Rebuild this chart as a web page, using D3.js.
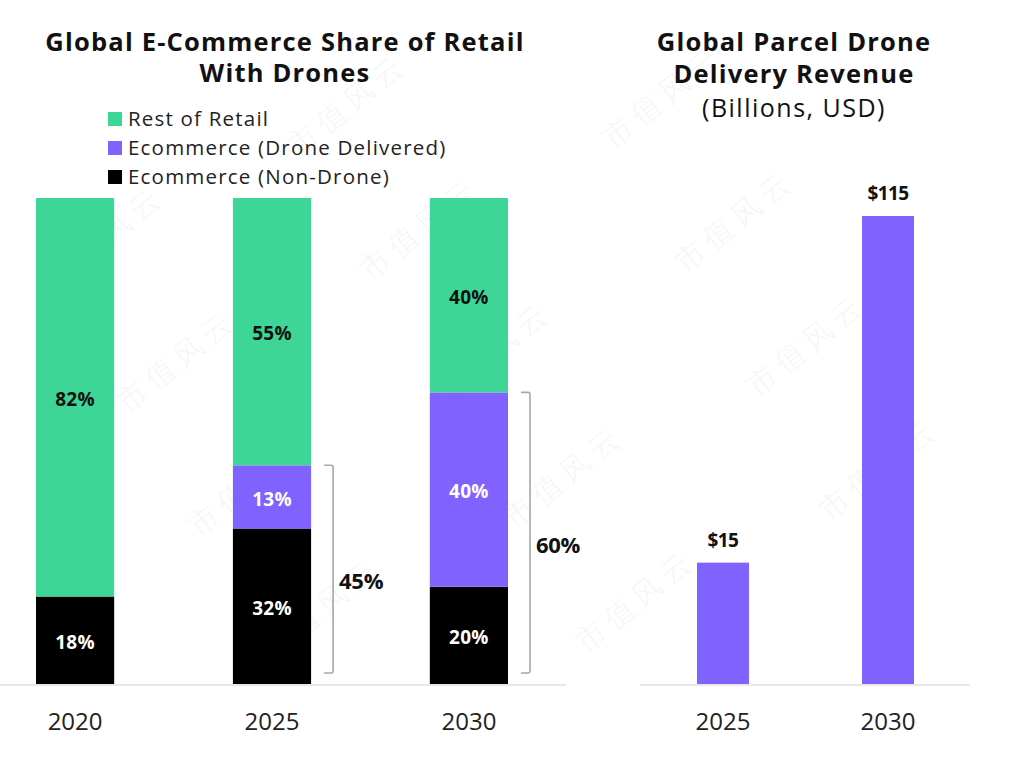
<!DOCTYPE html>
<html><head><meta charset="utf-8">
<script src="https://cdn.jsdelivr.net/npm/d3@7"></script>
<style>
html,body{margin:0;padding:0;background:#fff;}
svg{display:block;}
text{font-family:"Open Sans","Noto Sans",sans-serif;}
</style></head>
<body>
<svg id="c" width="1032" height="757"></svg>
<script>
// ---- data ----
const years = ["2020", "2025", "2030"];
const nonDrone = [18, 32, 20];
const droneDelivered = [0, 13, 40];
const restOfRetail = [82, 55, 40];
const seriesNames = ["Ecommerce (Non-Drone)", "Ecommerce (Drone Delivered)", "Rest of Retail"];
const legendOrder = ["Rest of Retail", "Ecommerce (Drone Delivered)", "Ecommerce (Non-Drone)"];
const bracketYears = ["2025", "2030"];
const bracketTotals = [45, 60];
const revYears = ["2025", "2030"];
const revenue = [15, 115];
const revLabels = ["$15", "$115"];

const colors = {"Ecommerce (Non-Drone)":"#000000","Ecommerce (Drone Delivered)":"#8062ff","Rest of Retail":"#3dd697"};
const labelColors = {"Ecommerce (Non-Drone)":"#ffffff","Ecommerce (Drone Delivered)":"#ffffff","Rest of Retail":"#111111"};

const svg = d3.select("#c");

// ---- watermark ----
const wm = svg.append("g").attr("class","watermark");
const ax=[72,124], bx=[315,-8];
for(let i=-6;i<=8;i++){
  for(let j=-3;j<=5;j++){
    const x = 55 + i*ax[0] + j*bx[0];
    const y = 290 + i*ax[1] + j*bx[1];
    if(x<0||x>1032||y<0||y>757) continue;
    const t = wm.append("text").attr("transform",`translate(${x},${y}) rotate(-39)`)
      .attr("font-family","'Noto Sans CJK SC'").attr("font-weight",300)
      .attr("font-size",30).attr("letter-spacing",6)
      .attr("fill","#000").attr("fill-opacity",0.045).text("市值风云");
    const L = 4*36, a = -39*Math.PI/180;
    const ex = x + L*Math.cos(a), ey = y + L*Math.sin(a);
    const minX = Math.min(x, ex) - 20, maxX = Math.max(x, ex) + 20;
    const minY = Math.min(y, ey) - 25, maxY = Math.max(y, ey) + 5;
    if(minX<0||maxX>1032||minY<0||maxY>757) t.remove();
  }
}

// ---- left chart ----
const x = d3.scaleBand().domain(years).range([36,508]).paddingInner(0.603).paddingOuter(0);
const y = d3.scaleLinear().domain([0,100]).range([684,198]);

const rows = years.map((yr,i)=>({year:yr,"Ecommerce (Non-Drone)":nonDrone[i],"Ecommerce (Drone Delivered)":droneDelivered[i],"Rest of Retail":restOfRetail[i]}));
const stack = d3.stack().keys(seriesNames)(rows);

const gL = svg.append("g");
gL.append("line").attr("x1",0).attr("x2",566).attr("y1",y(0)+1).attr("y2",y(0)+1)
  .attr("stroke","#e8e8e8").attr("stroke-width",2);

stack.forEach(layer=>{
  const key = layer.key;
  const g = gL.append("g");
  g.selectAll("rect").data(layer.filter(d=>d[1]-d[0]>0)).join("rect")
    .attr("x",d=>x(d.data.year)).attr("width",x.bandwidth())
    .attr("y",d=>y(d[1])).attr("height",d=>y(d[0])-y(d[1]))
    .attr("fill",colors[key]);
  g.selectAll("text").data(layer.filter(d=>d[1]-d[0]>0)).join("text")
    .attr("x",d=>x(d.data.year)+x.bandwidth()/2)
    .attr("y",d=>(y(d[0])+y(d[1]))/2+2)
    .attr("dy","0.36em").attr("text-anchor","middle")
    .attr("font-size",19).attr("font-weight",700).attr("letter-spacing",0.3)
    .attr("fill",labelColors[key])
    .text(d=>(d[1]-d[0])+"%");
});

// brackets
bracketYears.forEach((yr,i)=>{
  const bx0 = x(yr)+x.bandwidth()+22;
  const top = y(bracketTotals[i]);
  const bot = y(0)-11;
  gL.append("path")
    .attr("d",`M${bx0-9},${top} L${bx0-2},${top} Q${bx0},${top} ${bx0},${top+2} L${bx0},${bot-2} Q${bx0},${bot} ${bx0-2},${bot} L${bx0-9},${bot}`)
    .attr("fill","none").attr("stroke","#a3a7ae").attr("stroke-width",1.6);
  gL.append("text").attr("x",bx0+6).attr("y",(top+bot)/2+12)
    .attr("dy","0.36em").attr("font-size",22).attr("font-weight",700).attr("fill","#111").attr("letter-spacing",-0.3)
    .text(bracketTotals[i]+"%");
});

// x axis labels
const axL = gL.append("g").attr("transform",`translate(0,${y(0)})`)
  .call(d3.axisBottom(x).tickSize(0).tickPadding(29));
axL.select(".domain").remove();
axL.selectAll("text").attr("font-size",24).attr("fill","#222").attr("font-family","Open Sans");

// title
const tL = svg.append("text").attr("text-anchor","middle").attr("font-size",25.5).attr("font-weight",700).attr("fill","#111").attr("letter-spacing",1.2);
tL.append("tspan").attr("x",285).attr("y",51).text("Global E-Commerce Share of Retail");
tL.append("tspan").attr("x",285).attr("y",82).text("With Drones");

// legend
const lg = svg.append("g");
legendOrder.forEach((k,i)=>{
  const yy = 119 + i*29;
  lg.append("rect").attr("x",108).attr("y",yy-7).attr("width",14).attr("height",14).attr("fill",colors[k]);
  lg.append("text").attr("x",128).attr("y",yy).attr("dy","0.36em").attr("font-size",20.5).attr("letter-spacing",1.2).attr("fill","#222").text(k);
});

// ---- right chart ----
const x2 = d3.scaleBand().domain(revYears).range([697,914]).paddingInner(0.685).paddingOuter(0);
const y2 = d3.scaleLinear().domain([-20,115]).range([684,216]);
const gR = svg.append("g");
gR.append("line").attr("x1",640).attr("x2",970).attr("y1",685).attr("y2",685)
  .attr("stroke","#e8e8e8").attr("stroke-width",2);
const revData = revYears.map((yr,i)=>({year:yr,v:revenue[i],label:revLabels[i]}));
gR.selectAll("rect").data(revData).join("rect")
  .attr("x",d=>x2(d.year)).attr("width",x2.bandwidth())
  .attr("y",d=>y2(d.v)).attr("height",d=>684-y2(d.v))
  .attr("fill","#8062ff");
gR.selectAll("text.val").data(revData).join("text").attr("class","val")
  .attr("x",d=>x2(d.year)+x2.bandwidth()/2).attr("y",d=>y2(d.v)-16)
  .attr("text-anchor","middle").attr("font-size",19).attr("font-weight",700).attr("fill","#111").attr("letter-spacing",-0.6)
  .text(d=>d.label);
const axR = gR.append("g").attr("transform",`translate(0,684)`)
  .call(d3.axisBottom(x2).tickSize(0).tickPadding(29));
axR.select(".domain").remove();
axR.selectAll("text").attr("font-size",24).attr("fill","#222").attr("font-family","Open Sans");

const tR = svg.append("text").attr("text-anchor","middle").attr("fill","#111");
tR.append("tspan").attr("x",794).attr("y",51).attr("font-size",25.5).attr("font-weight",700).attr("letter-spacing",1.2).text("Global Parcel Drone");
tR.append("tspan").attr("x",794).attr("y",83).attr("font-size",25.5).attr("font-weight",700).attr("letter-spacing",1.2).text("Delivery Revenue");
tR.append("tspan").attr("x",794).attr("y",117).attr("font-size",25).attr("font-weight",400).attr("letter-spacing",1.5).text("(Billions, USD)");
</script>
</body></html>
